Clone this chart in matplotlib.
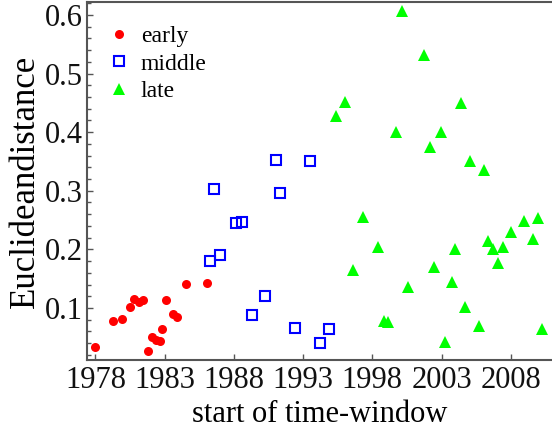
import matplotlib
matplotlib.use('Agg')
import matplotlib.pyplot as plt
from matplotlib.ticker import MultipleLocator

# early windows
early_x = [1977.99, 1979.26, 1979.91, 1980.47, 1980.81, 1981.12, 1981.43, 1981.82, 1982.08,
           1982.40, 1982.64, 1982.80, 1983.09, 1983.60, 1983.92, 1984.54, 1986.06]
early_y = [0.034, 0.077, 0.082, 0.102, 0.115, 0.110, 0.113, 0.027, 0.050,
           0.045, 0.043, 0.065, 0.113, 0.089, 0.085, 0.141, 0.143]

# middle windows
middle_x = [1986.25, 1986.97, 1986.56, 1988.18, 1988.61, 1989.31, 1990.23, 1991.07, 1991.31,
            1992.39, 1993.53, 1994.22, 1994.90]
middle_y = [0.181, 0.191, 0.303, 0.245, 0.247, 0.088, 0.121, 0.353, 0.296,
            0.066, 0.350, 0.040, 0.064]

# late windows
late_x = [1995.38, 1996.06, 1996.63, 1997.31, 1998.41, 1998.82, 1999.13, 1999.74, 2000.17,
          2000.56, 2001.74, 2002.15, 2002.49, 2002.99, 2003.28, 2003.74, 2003.98, 2004.39,
          2004.70, 2005.06, 2005.71, 2006.05, 2006.39, 2006.72, 2007.06, 2007.42, 2008.05,
          2008.96, 2009.64, 2009.97, 2010.29]
late_y = [0.428, 0.451, 0.164, 0.256, 0.204, 0.078, 0.076, 0.400, 0.607,
          0.135, 0.531, 0.374, 0.170, 0.401, 0.042, 0.144, 0.200, 0.449,
          0.102, 0.350, 0.069, 0.336, 0.214, 0.201, 0.176, 0.204, 0.230,
          0.249, 0.217, 0.253, 0.064]

xticks = [1978, 1983, 1988, 1993, 1998, 2003, 2008]
yticks = [0.1, 0.2, 0.3, 0.4, 0.5, 0.6]

plt.rcParams['font.family'] = ['Liberation Serif', 'DejaVu Serif']

fig = plt.figure(figsize=(5.52, 4.44), dpi=100)
ax = fig.add_axes([87 / 552, 1 - 360 / 444, 465 / 552, 358 / 444])

ax.plot(early_x, early_y, 'o', color='#ff0000', markersize=6.5, markeredgewidth=0, label='early')
ax.plot(middle_x, middle_y, 's', color='#0000ff', markerfacecolor='none', markersize=7,
        markeredgewidth=1.5, label='middle')
ax.plot(late_x, late_y, '^', color='#00ff00', markersize=8.5, markeredgewidth=0, label='late')

ax.set_xlim(1977.386, 2010.98)
ax.set_ylim(0.0113, 0.622)
ax.set_xticks(xticks)
ax.set_xticklabels([str(t) for t in xticks])
ax.set_yticks(yticks)
ax.set_yticklabels([str(t) for t in yticks])
ax.yaxis.set_minor_locator(MultipleLocator(0.02))

spine_col = '#555555'
for s in ['left', 'bottom', 'top']:
    ax.spines[s].set_color(spine_col)
    ax.spines[s].set_linewidth(1.5)
ax.spines['right'].set_visible(False)

ax.tick_params(axis='both', which='both', direction='in', color=spine_col, labelsize=22,
               labelcolor='#111111')
ax.tick_params(axis='both', which='major', length=4, width=1)
ax.tick_params(axis='y', which='minor', length=3, width=1)
ax.tick_params(axis='x', pad=4)
ax.tick_params(axis='y', pad=3)

ax.set_xlabel('start of time-window', fontsize=22, labelpad=4)
ax.set_ylabel('Euclideandistance', fontsize=25, labelpad=2)

ax.legend(loc='upper left', bbox_to_anchor=(0.019, 0.96), frameon=False, fontsize=17,
          handletextpad=0.3, labelspacing=0.25, handlelength=1.2, borderaxespad=0)

fig.savefig('out.png', dpi=100)
